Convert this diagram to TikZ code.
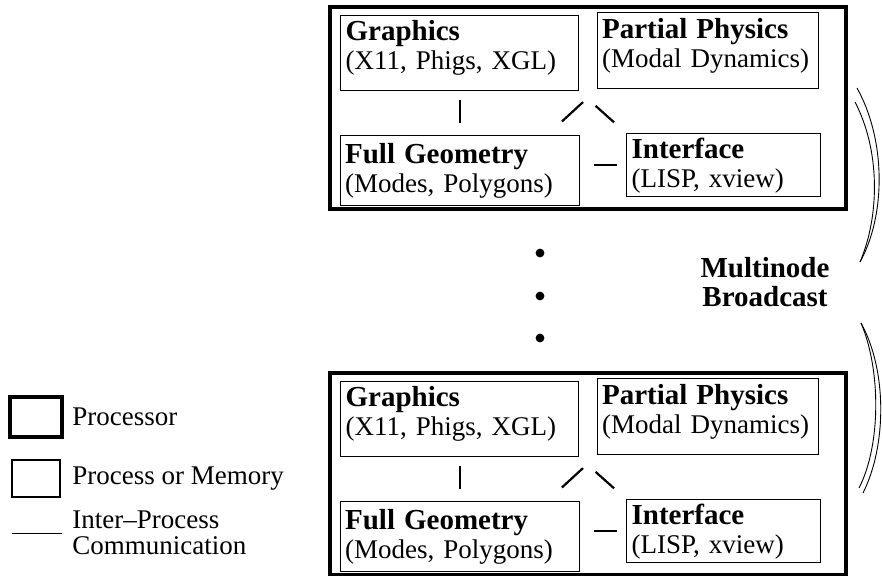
\documentclass[tikz,border=0pt]{standalone}
\usepackage{fontspec}
\setmainfont{Liberation Serif}
\usetikzlibrary{positioning,calc}
\tikzset{
  proc/.style={line width=2pt},
  pbox/.style={draw,line width=0.6pt,anchor=north west,align=left,inner sep=2pt,
    font=\fontsize{13.5}{14.5}\selectfont},
  ipc/.style={line width=1.1pt},
  brace/.style={line width=0.45pt},
  legtext/.style={anchor=west,inner sep=0pt,align=left,font=\fontsize{13.5}{13}\selectfont}
}
\newcommand{\lowpad}{\rule[-8pt]{0pt}{8pt}}

\begin{document}
\begin{tikzpicture}[x=0.5pt,y=-0.5pt]
\useasboundingbox (0,0) rectangle (882,575);
% two processors, same layout
\foreach \k/\dy in {1/0,2/366} {
\begin{scope}[yshift=-\dy*0.5pt]
\draw[proc] (330,7) rectangle (846,209);
\node[pbox,minimum width=119pt,minimum height=37.5pt,text width=114pt] (gr\k) at (340,15)
  {{\fontsize{14.5}{14.5}\selectfont\bfseries Graphics}\\(X11, Phigs, XGL)\lowpad};
\node[pbox,minimum width=110.5pt,minimum height=38pt,text width=106pt] (pp\k) at (597,12)
  {{\fontsize{14.5}{14.5}\selectfont\bfseries Partial Physics}\\(Modal Dynamics)\lowpad};
\node[pbox,minimum width=119.5pt,minimum height=35pt,text width=115pt] (fg\k) at (340,135)
  {{\fontsize{14.5}{14.5}\selectfont\bfseries Full Geometry}\\(Modes, Polygons)};
\node[pbox,minimum width=97pt,minimum height=28.5pt,text width=92pt] (if\k) at (626,133)
  {{\fontsize{14.5}{14.5}\selectfont\bfseries Interface}\\(LISP, xview)};
\draw[ipc,shorten <=4.5pt,shorten >=6pt] (gr\k.south) -- (gr\k.south |- fg\k.north);
\draw[ipc,shorten <=11pt,shorten >=8pt] (gr\k.south east) -- (if\k.north west);
\draw[ipc,shorten <=10pt,shorten >=9.5pt] ([xshift=-16.5pt]fg\k.north east) -- (pp\k.south west);
\draw[ipc,shorten <=7pt,shorten >=4.5pt] (if\k.west -| fg\k.east) -- (if\k.west);
\end{scope}
}
% dots between the processors
\foreach \y in {253,296,338}
  \fill (540,\y) circle[radius=2.2pt];
\node[align=center,font=\fontsize{14.5}{14.5}\selectfont\bfseries] (mb) at (765,282) {Multinode\\Broadcast};
% broadcast arcs
\draw[brace] (857,88) .. controls (886,140) and (886,215) .. (860,262);
\draw[brace] (855,102) .. controls (880,150) and (880,215) .. (860,262);
\draw[brace] (861,323) .. controls (887,370) and (887,445) .. (863,493);
\draw[brace] (861,323) .. controls (881,370) and (881,445) .. (859,488);
% legend
\draw[proc] (10,397) rectangle (62,437);
\node[legtext] (lproc) at (72,417) {Processor};
\draw[line width=0.6pt] (12,460) rectangle (60,497);
\node[legtext] (lmem) at (72,479) {Process or Memory};
\coordinate (la) at (12,533);
\coordinate (lb) at (62,533);
\draw[line width=0.5pt] (la) -- (lb);
\node[legtext] (lipc) at (72,533) {Inter--Process\\Communication};
\end{tikzpicture}
\end{document}
